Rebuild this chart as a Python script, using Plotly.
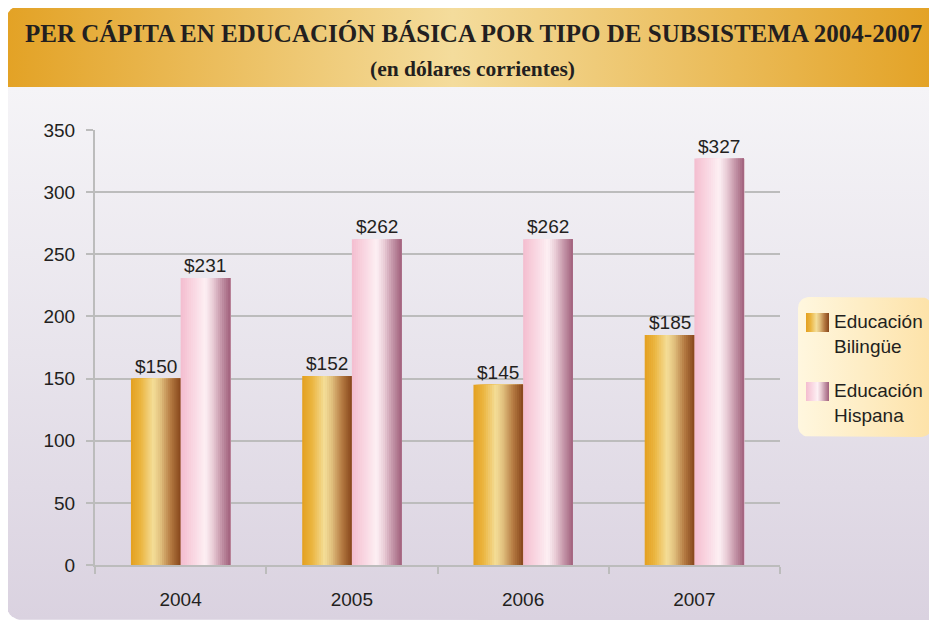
import numpy as np
import plotly.graph_objects as go

# data
years = ["2004", "2005", "2006", "2007"]
bilingue = [150, 152, 145, 185]
hispana = [231, 262, 262, 327]
series_names = ["Educación<br>Bilingüe", "Educación<br>Hispana"]
title_1 = "PER CÁPITA EN EDUCACIÓN BÁSICA POR TIPO DE SUBSISTEMA 2004-2007"
title_2 = "(en dólares corrientes)"

W, H = 937, 621
OFF = 8  # the page body adds an 8px margin, so the figure starts at (8, 8)
FW, FH = W - OFF, H - OFF
TXT = "#231F20"
FONT = "Liberation Sans, Arial, sans-serif"

bil_scale = [[0, "#E3A020"], [0.2, "#EBB540"], [0.45, "#F4DE98"], [0.6, "#E0BE7C"],
             [0.8, "#B57A42"], [1, "#86451B"]]
his_scale = [[0, "#F4BDCF"], [0.25, "#F9D6E1"], [0.5, "#FDF0F4"], [0.65, "#E9CCD6"],
             [0.82, "#C495A8"], [1, "#A1607C"]]


def hex2rgb(h):
    h = h.lstrip("#")
    return np.array([int(h[i:i + 2], 16) for i in (0, 2, 4)], dtype=float)


def sample(scale, t):
    for (a, ca), (b, cb) in zip(scale[:-1], scale[1:]):
        if a <= t <= b:
            f = (t - a) / (b - a) if b > a else 0
            c = hex2rgb(ca) * (1 - f) + hex2rgb(cb) * f
            return "rgb(%d,%d,%d)" % tuple(np.round(c))
    return scale[-1][1]


def rounded_rect(x0, y0, x1, y1, r, corners=(1, 1, 1, 1)):
    # corners: tl, tr, br, bl ; y grows downward (pixel coords)
    pts = []
    specs = [((x0, y0), (x0 + r, y0 + r), 180, 270, corners[0]),
             ((x1, y0), (x1 - r, y0 + r), 270, 360, corners[1]),
             ((x1, y1), (x1 - r, y1 - r), 0, 90, corners[2]),
             ((x0, y1), (x0 + r, y1 - r), 90, 180, corners[3])]
    for corner, c, a0, a1, on in specs:
        if on:
            for a in np.linspace(np.radians(a0), np.radians(a1), 10):
                pts.append((c[0] + r * np.cos(a), c[1] + r * np.sin(a)))
        else:
            pts.append(corner)
    pts.append(pts[0])
    xs, ys = zip(*pts)
    return list(xs), list(ys)


def grad_poly(xs, ys, scale, kind, start, stop):
    return go.Scatter(x=xs, y=ys, xaxis="x", yaxis="y", mode="lines", fill="toself",
                      line=dict(width=0, color="rgba(0,0,0,0)"),
                      fillgradient=dict(type=kind, colorscale=scale, start=start, stop=stop),
                      hoverinfo="skip", showlegend=False, cliponaxis=True)


fig = go.Figure()

# background: title banner, panel, legend box (page pixel coords on axes x/y)
bx, by = rounded_rect(6, 6, W + 5, 87, 14, (1, 0, 0, 0))
fig.add_trace(grad_poly(bx, by, [[0, "#E3A225"], [0.48, "#F4DC9C"], [1, "#E3A225"]],
                        "horizontal", 6, W))
px_, py_ = rounded_rect(6, 87, W + 5, 620, 16, (0, 0, 0, 1))
fig.add_trace(grad_poly(px_, py_, [[0, "#F5F4F7"], [0.5, "#E8E4EC"], [1, "#DAD2E0"]],
                        "vertical", 87, 620))
lx, ly = rounded_rect(798, 297, 932, 437, 11)
fig.add_trace(grad_poly(lx, ly, [[0, "#FFF7DF"], [1, "#FDE2A8"]], "horizontal", 798, 932))

# legend swatches
for (y0, y1), sc in zip([(313, 332), (382, 401)], [bil_scale, his_scale]):
    sx, sy = rounded_rect(806, y0, 829, y1, 0.1, (0, 0, 0, 0))
    fig.add_trace(grad_poly(sx, sy, sc, "horizontal", 806, 829))

# bars: each bar made of overlapping slices to get the cylinder shading
bw = 0.29
n = 24
for vals, sc, start in [(bilingue, bil_scale, -bw), (hispana, his_scale, 0.0)]:
    for i in range(n):
        off = start + i * bw / n
        fig.add_trace(go.Bar(x=years, y=vals, xaxis="x2", yaxis="y2",
                             offset=off, width=bw - i * bw / n,
                             marker=dict(color=sample(sc, (i + 0.5) / n), line=dict(width=0)),
                             hoverinfo="skip", showlegend=False))

annotations = []
half_px = bw * (685 / 4) / 2
for vals, sign in [(bilingue, -1), (hispana, 1)]:
    for k, v in enumerate(vals):
        annotations.append(dict(x=k, y=v, xref="x2", yref="y2", text="$%d" % v,
                                xshift=sign * half_px, yshift=0, yanchor="bottom",
                                showarrow=False, font=dict(size=19, color=TXT, family=FONT)))

TFONT = "Liberation Serif, Times New Roman, serif"
annotations.append(dict(x=473, y=33, xref="x", yref="y", text="<b>%s</b>" % title_1,
                        showarrow=False, font=dict(size=25, color=TXT, family=TFONT)))
annotations.append(dict(x=472, y=69, xref="x", yref="y", text="<b>%s</b>" % title_2,
                        showarrow=False, font=dict(size=21.5, color=TXT, family=TFONT)))
for name, yc in zip(series_names, [334, 403]):
    annotations.append(dict(x=832, y=yc, xref="x", yref="y", text=name, align="left",
                            xanchor="left", yanchor="middle", showarrow=False,
                            font=dict(size=19, color=TXT, family=FONT)))

grid = "#BCBCBC"
fig.update_layout(
    width=FW, height=FH, autosize=False,
    margin=dict(l=0, r=0, t=0, b=0, autoexpand=False),
    paper_bgcolor="white", plot_bgcolor="rgba(0,0,0,0)",
    barmode="overlay", showlegend=False,
    annotations=annotations,
    xaxis=dict(domain=[0, 1], range=[OFF, W], visible=False, fixedrange=True, automargin=False),
    yaxis=dict(domain=[0, 1], range=[H, OFF], visible=False, fixedrange=True, automargin=False),
    xaxis2=dict(domain=[(95 - OFF) / FW, (780 - OFF) / FW], anchor="y2", type="category",
                range=[-0.5, 3.5], showline=True, linecolor=grid, linewidth=2, showgrid=False,
                automargin=False, ticks="outside", tickson="boundaries", ticklen=7, tickwidth=2,
                tickcolor=grid, ticklabelstandoff=16,
                tickfont=dict(size=19, color=TXT, family=FONT)),
    yaxis2=dict(domain=[(H - 565) / FH, (H - 130) / FH], anchor="x2", range=[0, 350], dtick=50,
                showline=True, linecolor=grid, linewidth=2, showgrid=True, gridcolor=grid,
                gridwidth=2, zeroline=False, ticks="outside", ticklen=7, tickwidth=2,
                tickcolor=grid, ticklabelstandoff=7, automargin=False,
                tickfont=dict(size=19, color=TXT, family=FONT)),
)

fig.write_html("out.html")
